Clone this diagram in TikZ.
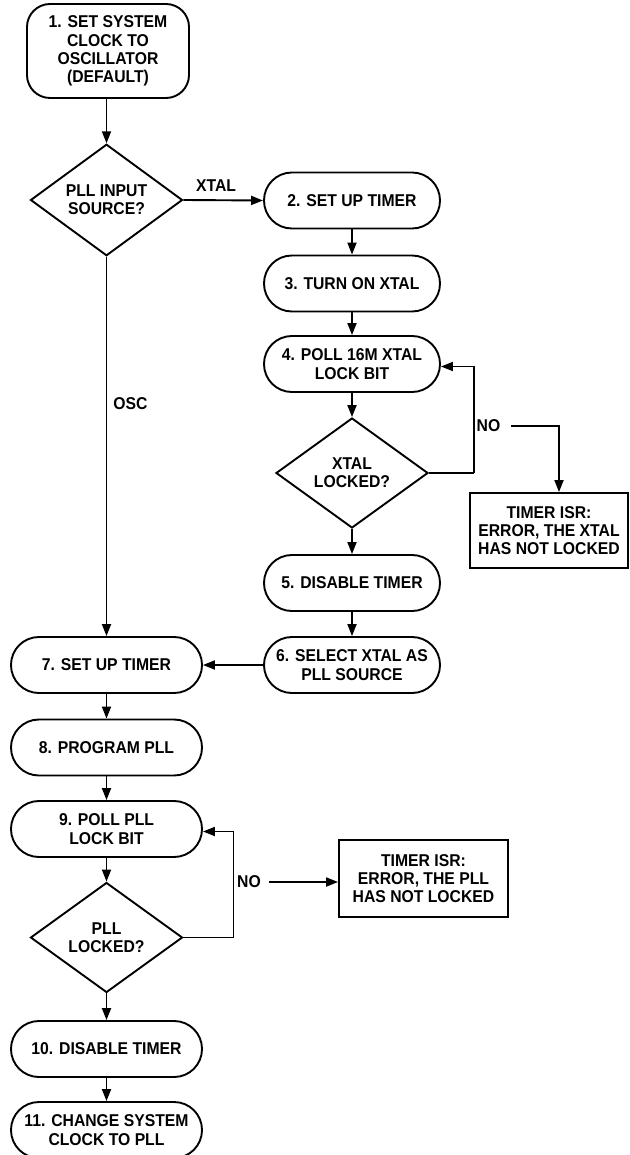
\documentclass[tikz,border=0pt]{standalone}
\usepackage{fontspec}
\setmainfont{Liberation Sans}[FakeStretch=0.92]
\usetikzlibrary{arrows.meta,shapes.geometric}

\begin{document}
\begin{tikzpicture}[x=1pt,y=-1pt,
  every node/.style={font=\fontsize{17.1}{18.3}\selectfont\bfseries, align=center},
  base/.style={draw, line width=1.9pt, inner sep=2pt},
  stadium/.style={base, rectangle, rounded corners=27.9pt, minimum width=176pt, minimum height=56pt},
  widestadium/.style={stadium, minimum width=191pt},
  startbox/.style={base, rectangle, rounded corners=23pt, minimum width=162pt, minimum height=94pt},
  decision/.style={base, diamond, inner sep=0pt, minimum width=152pt, minimum height=110pt},
  isrbox/.style={base, rectangle, rounded corners=0pt},
  lbl/.style={inner sep=0pt},
  arr/.style={line width=1.9pt, -{Triangle[length=12pt,width=9pt]}},
  line/.style={line width=1.9pt}
]
\useasboundingbox (0,0) rectangle (629,1155);

% left column
\node[startbox] (b1) at (108,51) {1. SET SYSTEM\\CLOCK TO\\OSCILLATOR\\(DEFAULT)};
\node[decision] (d1) at (106.5,200) {PLL INPUT\\SOURCE?};
\node[widestadium] (b7) at (106.5,665) {7. SET UP TIMER};
\node[widestadium] (b8) at (106.5,747.5) {8. PROGRAM PLL};
\node[widestadium] (b9) at (106.5,829) {9. POLL PLL\\LOCK BIT};
\node[decision] (dP) at (106.5,937.5) {PLL\\LOCKED?};
\node[widestadium] (b10) at (106.5,1049) {10. DISABLE TIMER};
\node[widestadium] (b11) at (106.5,1130) {11. CHANGE SYSTEM\\CLOCK TO PLL};

% crystal branch
\node[stadium] (b2) at (352,200.5) {2. SET UP TIMER};
\node[stadium] (b3) at (352,283.5) {3. TURN ON XTAL};
\node[stadium] (b4) at (352,364) {4. POLL 16M XTAL\\LOCK BIT};
\node[decision] (dX) at (352,473) {XTAL\\LOCKED?};
\node[stadium] (b5) at (352,583) {5. DISABLE TIMER};
\node[stadium] (b6) at (352,665) {6. SELECT XTAL AS\\PLL SOURCE};

% timer interrupt handlers
\node[isrbox, minimum width=158pt, minimum height=75pt] (isrX) at (549,530.5)
  {TIMER ISR:\\ERROR, THE XTAL\\HAS NOT LOCKED};
\node[isrbox, minimum width=169pt, minimum height=77pt] (isrP) at (423.5,878.5)
  {TIMER ISR:\\ERROR, THE PLL\\HAS NOT LOCKED};

% NO labels
\node[lbl, anchor=west] (noX) at (476.5,426) {NO};
\node[lbl, anchor=west] (noP) at (237,882) {NO};

% connectors
\draw[arr] (b1.south -| d1.north) -- (d1.north);
\draw[arr] (d1.east) -- node[lbl, above=8pt, pos=0.41] {XTAL} (b2.west);
\draw[arr] (d1.south) -- node[lbl, right=6pt, pos=0.387] {OSC} (b7.north);
\draw[arr] (b2) -- (b3);
\draw[arr] (b3) -- (b4);
\draw[arr] (b4) -- (dX);
\draw[line] (dX.east) -- ([xshift=45pt]dX.east);
\draw[arr] ([xshift=45pt]dX.east) |- ([yshift=-2.5pt]b4.east);
\draw[arr] ([xshift=10pt]noX.east) -| ([xshift=10pt]isrX.north);
\draw[arr] (dX) -- (b5);
\draw[arr] (b5) -- (b6);
\draw[arr] (b6.west) -- (b7.east);
\draw[arr] (b7) -- (b8);
\draw[arr] (b8) -- (b9);
\draw[arr] (b9) -- (dP);
\draw[line] (dP.east) -- ([xshift=50pt]dP.east);
\draw[arr] ([xshift=50pt]dP.east) |- ([yshift=-2.5pt]b9.east);
\draw[arr] ([xshift=8pt]noP.east) -- (noP.east -| isrP.west);
\draw[arr] (dP) -- (b10);
\draw[arr] (b10) -- (b11);
\end{tikzpicture}
\end{document}
